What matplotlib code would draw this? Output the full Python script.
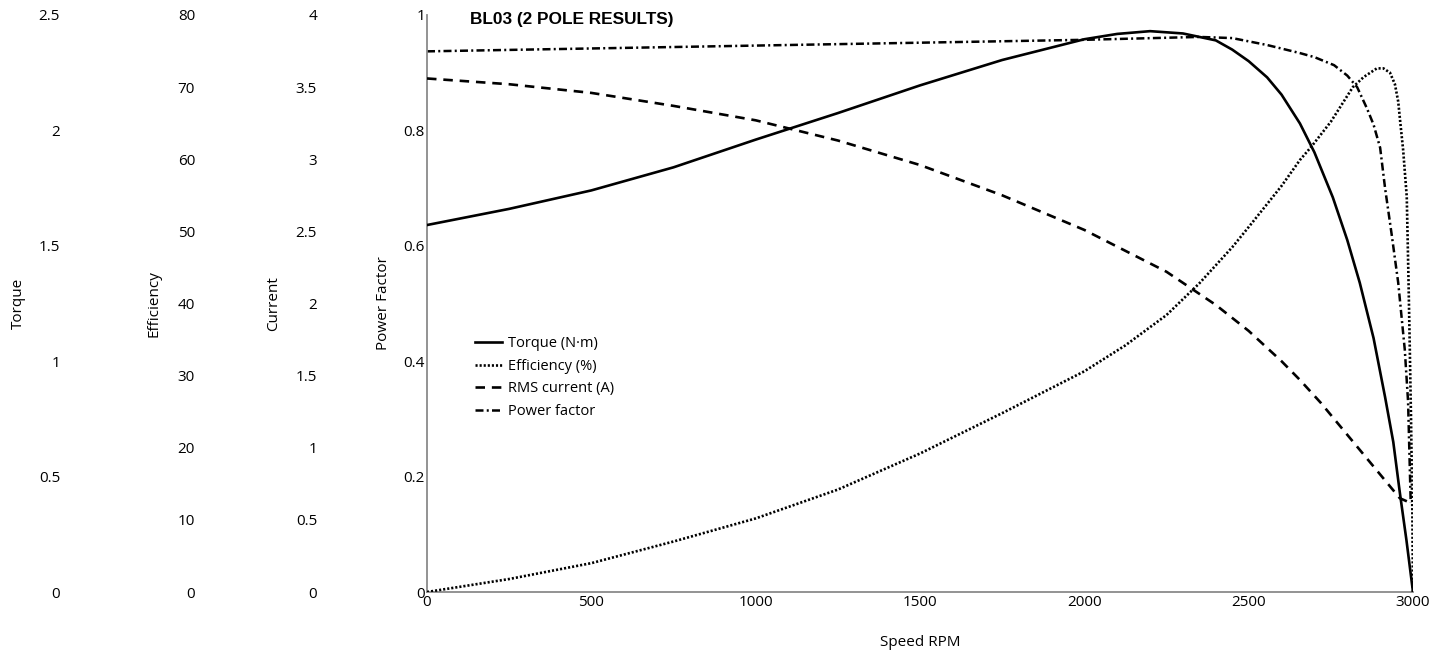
import matplotlib
matplotlib.use("Agg")
import matplotlib.pyplot as plt

# ---- motor test data (speed in RPM) ----
torque_rpm = [0, 250, 500, 750, 1000, 1250, 1500, 1750, 2000, 2100, 2200, 2300,
              2400, 2450, 2500, 2556, 2600, 2656, 2700, 2756, 2800, 2838, 2880,
              2915, 2940, 2960, 2980, 3000]
torque_nm = [1.59, 1.66, 1.74, 1.84, 1.96, 2.075, 2.195, 2.305, 2.395, 2.418, 2.43,
             2.42, 2.39, 2.35, 2.30, 2.23, 2.155, 2.03, 1.905, 1.71, 1.525, 1.34,
             1.10, 0.845, 0.65, 0.43, 0.225, 0.0]

eff_rpm = [0, 250, 500, 750, 1000, 1250, 1500, 1750, 2000, 2125, 2250, 2350, 2450,
           2500, 2565, 2600, 2656, 2690, 2750, 2817, 2850, 2890, 2910, 2930, 2945,
           2955, 2962, 2970, 2981, 2986, 2990, 2994, 2998, 3000]
eff_pct = [0, 1.8, 4.0, 7.0, 10.2, 14.2, 19.2, 24.8, 30.6, 34.2, 38.4, 42.8, 47.8,
           50.6, 54.3, 56.3, 59.9, 61.7, 65.2, 70.0, 71.4, 72.6, 72.6, 72.0, 70.4,
           68.0, 64.8, 61.3, 54.8, 44.0, 34.4, 24.0, 11.2, 0]

cur_rpm = [0, 250, 500, 750, 1000, 1250, 1500, 1750, 2000, 2250, 2400, 2500, 2600,
           2656, 2720, 2800, 2880, 2960, 2990]
cur_a = [3.56, 3.52, 3.46, 3.37, 3.27, 3.13, 2.96, 2.75, 2.51, 2.22, 1.99, 1.81,
         1.60, 1.47, 1.31, 1.09, 0.87, 0.65, 0.62]

pf_rpm = [0, 500, 1000, 1500, 2000, 2350, 2450, 2556, 2656, 2700, 2760, 2800, 2830,
          2860, 2880, 2900, 2915, 2935, 2955, 2975, 2985, 2993]
pf_val = [0.937, 0.942, 0.947, 0.952, 0.957, 0.962, 0.960, 0.948, 0.934, 0.927,
          0.913, 0.895, 0.875, 0.838, 0.810, 0.770, 0.700, 0.620, 0.536, 0.420,
          0.330, 0.155]

torque_ticks = [0, 0.5, 1, 1.5, 2, 2.5]
eff_ticks = [0, 10, 20, 30, 40, 50, 60, 70, 80]
cur_ticks = [0, 0.5, 1, 1.5, 2, 2.5, 3, 3.5, 4]
pf_ticks = [0, 0.2, 0.4, 0.6, 0.8, 1]
speed_ticks = [0, 500, 1000, 1500, 2000, 2500, 3000]

TICK_FONT = "Open Sans"
FS = 11

def fmt(v):
    return f"{v:g}"

fig = plt.figure(figsize=(14.5, 6.53), dpi=100)
W, H = 1450, 653
x0, x1, y0, y1 = 427, 1413, 592, 15
ax = fig.add_axes([x0 / W, 1 - y0 / H, (x1 - x0) / W, (y0 - y1) / H])
aw = x1 - x0
ah = y0 - y1

# Power-factor axis (main)
ax.set_xlim(0, 3000)
ax.set_ylim(0, 1)
for s in ("top", "right"):
    ax.spines[s].set_visible(False)
for s in ("left", "bottom"):
    ax.spines[s].set_color("#8a8a8a")
    ax.spines[s].set_linewidth(1.3)
ax.set_xticks(speed_ticks)
ax.set_xticklabels([fmt(v) for v in speed_ticks], family=TICK_FONT, fontsize=FS)
ax.set_yticks(pf_ticks)
ax.set_yticklabels([fmt(v) for v in pf_ticks], family=TICK_FONT, fontsize=FS)
ax.tick_params(axis="both", length=0)
ax.tick_params(axis="y", pad=1.5)
ax.tick_params(axis="x", pad=2)
ax.set_xlabel("Speed RPM", family=TICK_FONT, fontsize=FS, labelpad=18)
ax.set_ylabel("Power Factor", family=TICK_FONT, fontsize=FS, va="center")
ax.yaxis.set_label_coords((383.5 - x0) / aw, 0.5)


def side_axis(ylim, ticks, label, tick_right_px, label_center_px):
    a = ax.twinx()
    a.set_ylim(*ylim)
    for s in a.spines.values():
        s.set_visible(False)
    a.yaxis.set_ticks_position("left")
    a.yaxis.set_label_position("left")
    a.spines["left"].set_position(("axes", (tick_right_px - x0) / aw))
    a.set_yticks(ticks)
    a.set_yticklabels([fmt(v) for v in ticks], family=TICK_FONT, fontsize=FS)
    a.tick_params(axis="y", length=0, pad=0)
    a.set_ylabel(label, family=TICK_FONT, fontsize=FS, va="center")
    a.yaxis.set_label_coords((label_center_px - x0) / aw, 0.5)
    return a


ax_t = side_axis((0, 2.5), torque_ticks, "Torque", 60, 18.5)
ax_e = side_axis((0, 80), eff_ticks, "Efficiency", 195, 153.5)
ax_c = side_axis((0, 4), cur_ticks, "Current", 317, 273.5)

h_t, = ax_t.plot(torque_rpm, torque_nm, color="black", lw=1.9, ls="-",
                 label="Torque (N·m)")
h_e, = ax_e.plot(eff_rpm, eff_pct, color="black", lw=1.9, ls=(0, (0.8, 0.75)),
                 label="Efficiency (%)")
h_c, = ax_c.plot(cur_rpm, cur_a, color="black", lw=1.9, ls=(0, (3.6, 2.6)),
                 label="RMS current (A)")
h_p, = ax.plot(pf_rpm, pf_val, color="black", lw=1.8, ls=(0, (3.2, 1.3, 0.8, 1.3)),
               label="Power factor")
for a in (ax_t, ax_e, ax_c):
    a.set_xlim(0, 3000)

ax_c.legend(handles=[h_t, h_e, h_c, h_p], loc="upper left",
            bbox_to_anchor=((475 - x0) / aw, (y0 - 336) / ah),
            frameon=False, prop={"family": TICK_FONT, "size": 10.5},
            handlelength=1.85, handletextpad=0.42, labelspacing=0.53,
            borderaxespad=0, borderpad=0)

ax_c.text((470 - x0) / aw, (y0 - 24) / ah, "BL03 (2 POLE RESULTS)",
          transform=ax.transAxes, family="Liberation Sans", fontweight="bold",
          fontsize=12.4, va="baseline", ha="left")

fig.savefig("out.png", dpi=100)
